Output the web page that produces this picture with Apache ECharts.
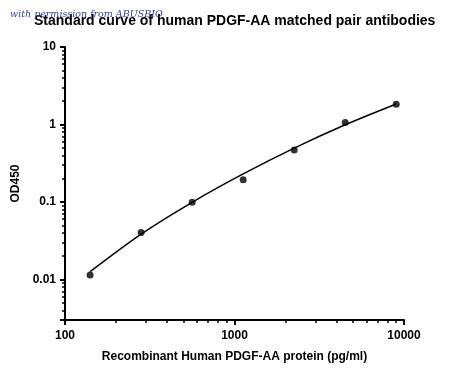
<!DOCTYPE html>
<html>
<head>
<meta charset="utf-8">
<script src="https://cdn.jsdelivr.net/npm/echarts@6/dist/echarts.min.js"></script>
<style>
  html, body { margin: 0; padding: 0; background: #fff; }
  #chart { width: 450px; height: 377px; }
</style>
</head>
<body>
<div id="chart"></div>
<script>
// concentrations (pg/ml), 2-fold dilution
const conc = [140.625, 281.25, 562.5, 1125, 2250, 4500, 9000]
// measured OD450
const od = [0.0114, 0.0405, 0.099, 0.194, 0.47, 1.06, 1.83]
// fitted curve
const fitConc = [140.625, 281.25, 562.5, 1125, 2250, 4500, 9000]
const fitOd = [0.0126, 0.0385, 0.0991, 0.230, 0.495, 0.991, 1.84]

const chart = echarts.init(document.getElementById('chart'))

const fmt = v => {
    const l = Math.log10(v)
    if (Math.abs(l - Math.round(l)) > 1e-6) return ''
    return String(Number(v.toPrecision(6)))
}

const labelStyle = {
    color: '#000',
    fontFamily: 'Liberation Sans',
    fontWeight: 'bold',
    fontSize: 12
}

chart.setOption({
    animation: false,
    title: {
        text: 'Standard curve of human PDGF-AA matched pair antibodies',
        left: 34,
        top: 14,
        padding: 0,
        textStyle: {
            color: '#000',
            fontFamily: 'Liberation Sans',
            fontWeight: 'bold',
            fontSize: 14
        }
    },
    graphic: [{
        type: 'text',
        left: 10,
        top: 10,
        z: 10,
        style: {
            text: 'with permission from ABUSBIO',
            fill: '#2f3f9a',
            font: 'italic 9.5px "DejaVu Serif"'
        }
    }],
    grid: {
        left: 65,
        right: 46,
        top: 47,
        bottom: 57
    },
    xAxis: {
        type: 'log',
        min: 100,
        max: 10000,
        name: 'Recombinant Human PDGF-AA protein (pg/ml)',
        nameLocation: 'middle',
        nameGap: 31,
        nameTextStyle: labelStyle,
        axisLine: { lineStyle: { color: '#000', width: 2 } },
        axisTick: { length: 5, lineStyle: { color: '#000', width: 2 } },
        minorTick: { show: true, splitNumber: 9, length: 3, lineStyle: { color: '#000', width: 1.5 } },
        splitLine: { show: false },
        axisLabel: Object.assign({ formatter: fmt, margin: 10 }, labelStyle)
    },
    yAxis: {
        type: 'log',
        min: 0.003,
        max: 10,
        name: 'OD450',
        nameLocation: 'middle',
        nameGap: 40,
        nameTextStyle: labelStyle,
        axisLine: { lineStyle: { color: '#000', width: 2 } },
        axisTick: { length: 5, lineStyle: { color: '#000', width: 2 } },
        minorTick: { show: true, splitNumber: 9, length: 3, lineStyle: { color: '#000', width: 1.5 } },
        splitLine: { show: false },
        axisLabel: Object.assign({ formatter: fmt, margin: 9 }, labelStyle)
    },
    series: [
        {
            type: 'line',
            data: fitConc.map((c, i) => [c, fitOd[i]]),
            smooth: 0.3,
            showSymbol: false,
            lineStyle: { color: '#000', width: 1.5 }
        },
        {
            type: 'scatter',
            data: conc.map((c, i) => [c, od[i]]),
            symbolSize: 7,
            itemStyle: { color: '#000' }
        }
    ]
})
</script>
</body>
</html>
